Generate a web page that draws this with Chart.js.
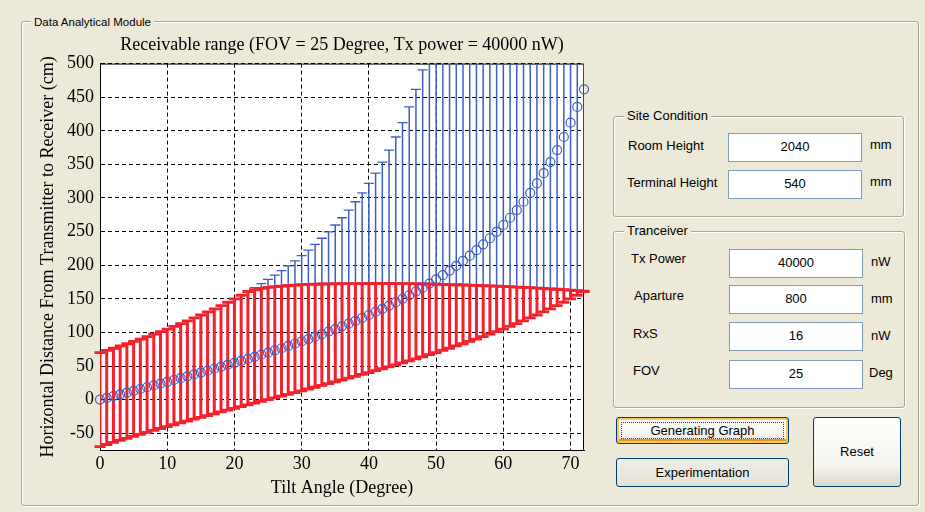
<!DOCTYPE html>
<html>
<head>
<meta charset="utf-8">
<script src="https://cdn.jsdelivr.net/npm/chart.js@4.4.1/dist/chart.umd.min.js"></script>
<style>
  body { margin: 0; width: 925px; height: 512px; background: #ECE9D8; position: relative; overflow: hidden;
         font-family: "Liberation Sans", Arial, sans-serif; font-size: 13px; color: #000; }
  .group { position: absolute; border: 1px solid #A6A597; border-radius: 3px; box-shadow: inset 1px 1px 0 #fff, 1px 1px 0 #fff; }
  .legend { position: absolute; top: -9px; left: 10px; padding: 0 3px; background: #ECE9D8; line-height: 16px; white-space: nowrap; }
  .lbl { position: absolute; line-height: 16px; white-space: nowrap; }
  .box { position: absolute; background: #fff; border: 1px solid #7F9DB9; text-align: center; line-height: 26px; }
  .btn { position: absolute; border: 1px solid #003C74; border-radius: 3px; text-align: center; box-sizing: border-box;
         background: linear-gradient(#FFFFFF, #F4F3EE 70%, #DCD8CC); }
  #wrap { position: absolute; left: 24px; top: 30px; width: 576px; height: 470px; }
</style>
</head>
<body>
<div class="group" style="left:21px;top:21px;width:896px;height:483px;"><span class="legend" style="font-size:11.5px;left:9px;top:-8px">Data Analytical Module</span></div>

<div class="group" style="left:613px;top:116px;width:289px;height:99px;"><span class="legend">Site Condition</span></div>
<div class="lbl" style="left:628px;top:138px">Room Height</div>
<div class="box" style="left:728px;top:133px;width:132px;height:27px">2040</div>
<div class="lbl" style="left:870px;top:137px">mm</div>
<div class="lbl" style="left:627px;top:175px">Terminal Height</div>
<div class="box" style="left:728px;top:170px;width:132px;height:27px">540</div>
<div class="lbl" style="left:870px;top:174px">mm</div>

<div class="group" style="left:613px;top:231px;width:290px;height:175px;"><span class="legend">Tranceiver</span></div>
<div class="lbl" style="left:631px;top:251px">Tx Power</div>
<div class="box" style="left:729px;top:249px;width:132px;height:27px">40000</div>
<div class="lbl" style="left:871px;top:254px">nW</div>
<div class="lbl" style="left:634px;top:288px">Aparture</div>
<div class="box" style="left:729px;top:285px;width:132px;height:27px">800</div>
<div class="lbl" style="left:871px;top:291px">mm</div>
<div class="lbl" style="left:633px;top:326px">RxS</div>
<div class="box" style="left:729px;top:322px;width:132px;height:27px">16</div>
<div class="lbl" style="left:871px;top:328px">nW</div>
<div class="lbl" style="left:633px;top:363px">FOV</div>
<div class="box" style="left:729px;top:360px;width:132px;height:27px">25</div>
<div class="lbl" style="left:869px;top:365px">Deg</div>

<div class="btn" style="left:616px;top:417px;width:173px;height:27px;line-height:25px;box-shadow:inset 0 0 0 2px #F7C860, inset 0 -2px 0 2px #E59A18;">
  <div style="position:absolute;left:4px;top:4px;right:4px;bottom:4px;border:1px dotted #444;"></div>Generating Graph</div>
<div class="btn" style="left:616px;top:458px;width:173px;height:29px;line-height:27px;background:linear-gradient(#EEEDE6,#E4E2D8);">Experimentation</div>
<div class="btn" style="left:813px;top:417px;width:88px;height:70px;line-height:68px;">Reset</div>

<div id="wrap"><canvas id="rangeChart"></canvas></div>

<script>
// Receivable range chart (MATLAB errorbar style)

const tiltAngles = [0, 1, 2, 3, 4, 5, 6, 7, 8, 9, 10, 11, 12, 13, 14, 15, 16, 17, 18, 19,
  20, 21, 22, 23, 24, 25, 26, 27, 28, 29, 30, 31, 32, 33, 34, 35, 36, 37, 38, 39,
  40, 41, 42, 43, 44, 45, 46, 47, 48, 49, 50, 51, 52, 53, 54, 55, 56, 57, 58, 59,
  60, 61, 62, 63, 64, 65, 66, 67, 68, 69, 70, 71, 72];

// blue circles
const centerDistance = [0, 2.6, 5.2, 7.9, 10.5, 13.1, 15.8, 18.4, 21.1, 23.8,
  26.4, 29.2, 31.9, 34.6, 37.4, 40.2, 43.0, 45.9, 48.7, 51.6,
  54.6, 57.6, 60.6, 63.7, 66.8, 69.9, 73.2, 76.4, 79.8, 83.1,
  86.6, 90.1, 93.7, 97.4, 101.2, 105.0, 109.0, 113.0, 117.2, 121.5,
  125.9, 130.4, 135.1, 139.9, 144.9, 150.0, 155.3, 160.9, 166.6, 172.6,
  178.8, 185.2, 192.0, 199.1, 206.5, 214.2, 222.4, 231.0, 240.1, 249.6,
  259.8, 270.6, 282.1, 294.4, 307.5, 321.7, 336.9, 353.4, 371.3, 390.8,
  412.1, 435.6, 461.7];

// lower end (shared by blue and red bars)
const lowerRange = [-69.9, -66.8, -63.7, -60.6, -57.6, -54.6, -51.6, -48.7, -45.9, -43.0,
  -40.2, -37.4, -34.6, -31.9, -29.2, -26.4, -23.8, -21.1, -18.4, -15.8,
  -13.1, -10.5, -7.9, -5.2, -2.6, 0, 2.6, 5.2, 7.9, 10.5,
  13.1, 15.8, 18.4, 21.1, 23.8, 26.4, 29.2, 31.9, 34.6, 37.4,
  40.2, 43.0, 45.9, 48.7, 51.6, 54.6, 57.6, 60.6, 63.7, 66.8,
  69.9, 73.2, 76.4, 79.8, 83.1, 86.6, 90.1, 93.7, 97.4, 101.2,
  105.0, 109.0, 113.0, 117.2, 121.5, 125.9, 130.4, 135.1, 139.9, 144.9,
  150.0, 155.3, 160.9];

// geometric (FOV) upper end, blue
const blueUpper = [69.9, 73.2, 76.4, 79.8, 83.1, 86.6, 90.1, 93.7, 97.4, 101.2,
  105.0, 109.0, 113.0, 117.2, 121.5, 125.9, 130.4, 135.1, 139.9, 144.9,
  150.0, 155.3, 160.9, 166.6, 172.6, 178.8, 185.2, 192.0, 199.1, 206.5,
  214.2, 222.4, 231.0, 240.1, 249.6, 259.8, 270.6, 282.1, 294.4, 307.5,
  321.7, 336.9, 353.4, 371.3, 390.8, 412.1, 435.6, 461.7, 490.6, 523.1,
  559.8, 601.6, 649.7, 705.7, 771.7, 850.7, 947.1, 1067.3, 1221.6, 1427.2,
  1714.5, 2145.1, 2862.2, 4295.4, 8593.5, 9999, 9999, 9999, 9999, 9999,
  9999, 9999, 9999];

// power-limited upper end, red
const redUpper = [69.9, 73.2, 76.4, 79.8, 83.1, 86.6, 90.1, 93.7, 97.4, 101.2,
  105.0, 109.0, 113.0, 117.2, 121.5, 125.9, 130.4, 135.1, 139.9, 144.9,
  150.0, 155.3, 160.9, 163.5, 165.5, 167.0, 168.0, 169.0, 169.8, 170.4,
  171.0, 171.4, 171.7, 172.0, 172.2, 172.4, 172.5, 172.6, 172.7, 172.7,
  172.8, 172.8, 172.8, 172.8, 172.7, 172.6, 172.5, 172.4, 172.2, 172.0,
  171.8, 171.5, 171.2, 170.9, 170.6, 170.3, 170.0, 169.6, 169.2, 168.8,
  168.4, 168.0, 167.5, 167.0, 166.5, 166.0, 165.4, 164.8, 164.2, 163.6,
  163.0, 162.2, 161.5];

const xTicks = [0, 10, 20, 30, 40, 50, 60, 70];
const yTicks = [-50, 0, 50, 100, 150, 200, 250, 300, 350, 400, 450, 500];

const BLUE = '#3F5EC2';
const RED = '#F4202C';
const SERIF = '"Liberation Serif", "Times New Roman", serif';

function points(ys) {
    return tiltAngles.map((x, i) => ({ x: x, y: ys[i] }));
}
function spans(lo, hi) {
    return tiltAngles.map((x, i) => ({ x: x, y: [lo[i], hi[i]] }));
}

// white plot box + solid frame like MATLAB axes
const axesBox = {
    id: 'axesBox',
    beforeDraw(chart) {
        const a = chart.chartArea;
        chart.ctx.save();
        chart.ctx.fillStyle = '#fff';
        chart.ctx.fillRect(a.left, a.top, a.right - a.left, a.bottom - a.top);
        chart.ctx.restore();
    },
    beforeDatasetsDraw(chart) {
        const a = chart.chartArea;
        const ctx = chart.ctx;
        ctx.save();
        ctx.strokeStyle = '#000';
        ctx.lineWidth = 1;
        ctx.strokeRect(a.left + 0.5, a.top + 0.5, a.right - a.left - 1, a.bottom - a.top);
        ctx.restore();
    }
};

const capClip = { left: 8, right: 8, top: 0, bottom: 8 };

new Chart(document.getElementById('rangeChart'), {
    type: 'scatter',
    data: {
        datasets: [
            { label: 'center', data: points(centerDistance), pointStyle: 'circle', pointRadius: 4.5,
              borderColor: BLUE, backgroundColor: 'rgba(0,0,0,0)', borderWidth: 1.2, order: 0, clip: 6 },
            { label: 'red top', data: points(redUpper), pointStyle: 'line', pointRadius: 5.5,
              borderColor: RED, borderWidth: 2.8, order: 1, clip: capClip },
            { label: 'red bottom', data: points(lowerRange), pointStyle: 'line', pointRadius: 5.5,
              borderColor: RED, borderWidth: 2.8, order: 1, clip: capClip },
            { type: 'bar', label: 'red range', data: spans(lowerRange, redUpper), backgroundColor: RED,
              maxBarThickness: 3, grouped: false, order: 2 },
            { label: 'blue top', data: points(blueUpper), pointStyle: 'line', pointRadius: 5,
              borderColor: BLUE, borderWidth: 1.3, order: 3, clip: 0 },
            { type: 'bar', label: 'blue range', data: spans(lowerRange, blueUpper), backgroundColor: BLUE,
              maxBarThickness: 1.5, grouped: false, order: 4 }
        ]
    },
    options: {
        responsive: true,
        maintainAspectRatio: false,
        animation: false,
        layout: { padding: { left: 0, right: 16, top: 0, bottom: 0 } },
        plugins: {
            legend: { display: false },
            tooltip: { enabled: false },
            title: {
                display: true,
                fullSize: false,
                text: 'Receivable range (FOV = 25 Degree, Tx power = 40000 nW)',
                color: '#000',
                font: { family: SERIF, size: 18, weight: 'normal' },
                padding: { top: 4, bottom: 8 }
            }
        },
        scales: {
            x: {
                type: 'linear', min: 0, max: 72, offset: false,
                afterBuildTicks: (scale) => { scale.ticks = xTicks.map(v => ({ value: v })); },
                afterFit: (scale) => { scale.height = 50; },
                grid: { color: '#000', lineWidth: 1, drawTicks: false, offset: false },
                border: { display: true, color: '#000', width: 1, dash: [4, 3] },
                ticks: { color: '#000', font: { family: SERIF, size: 18 }, padding: 3, maxRotation: 0 },
                title: { display: true, text: 'Tilt Angle (Degree)', color: '#000',
                         font: { family: SERIF, size: 18 }, padding: { top: 0, bottom: 1 } }
            },
            y: {
                type: 'linear', min: -75, max: 500,
                afterBuildTicks: (scale) => { scale.ticks = yTicks.map(v => ({ value: v })); },
                afterFit: (scale) => { scale.width = 76; },
                grid: { color: '#000', lineWidth: 1, drawTicks: false },
                border: { display: true, color: '#000', width: 1, dash: [4, 3] },
                ticks: { color: '#000', font: { family: SERIF, size: 18 }, padding: 6 },
                title: { display: true, text: 'Horizontal Distance From Transmitter to Receiver (cm)', color: '#000',
                         font: { family: SERIF, size: 18 }, padding: { top: 13, bottom: 0 } }
            }
        }
    },
    plugins: [axesBox]
});
</script>
</body>
</html>
